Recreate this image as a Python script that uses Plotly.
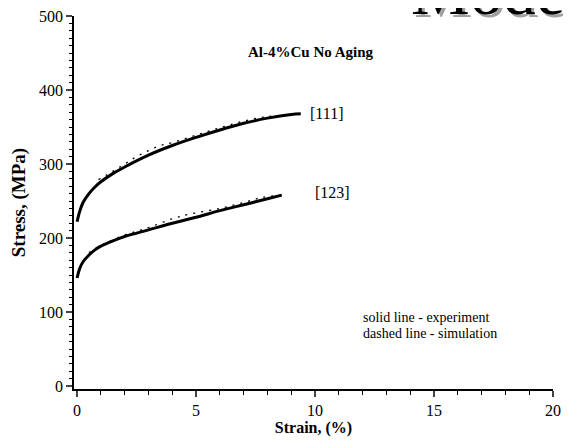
import plotly.graph_objects as go

# ---- data ----
exp111_strain = [0, 0.1, 0.25, 0.5, 0.75, 1.0, 1.5, 2.0, 3.0, 4.0, 5.0, 6.0, 7.0, 8.0, 9.0, 9.4]
exp111_stress = [222, 235, 248, 260, 269, 276, 287, 296, 312, 325, 336, 346, 355, 362, 367, 368]
exp123_strain = [0, 0.1, 0.25, 0.5, 0.75, 1.0, 1.5, 2.0, 3.0, 4.0, 5.0, 6.0, 7.0, 8.0, 8.6]
exp123_stress = [146, 158, 168, 177, 184, 189, 196, 202, 211, 220, 228, 237, 245, 253, 258]
sim111_strain = [0.9, 1.5, 2.0, 2.5, 3.0, 3.5, 4.0, 5.0, 6.0, 7.0, 8.0, 9.0]
sim111_stress = [279, 290, 300, 310, 318, 325, 329, 339, 349, 358, 364, 366]
sim123_strain = [0.5, 1.0, 2.0, 3.0, 4.0, 4.7, 6.0, 7.0, 7.8, 8.6]
sim123_stress = [180, 190, 204, 214, 226, 232, 240, 248, 255, 258]
x_ticks = [0, 5, 10, 15, 20]
y_ticks = [0, 100, 200, 300, 400, 500]

FONT = "Liberation Serif, Times New Roman, serif"

fig = go.Figure()
for xs, ys in [(sim111_strain, sim111_stress), (sim123_strain, sim123_stress)]:
    fig.add_trace(go.Scatter(x=xs, y=ys, mode="lines", line_shape="spline",
                             line=dict(color="black", width=1.3, dash="2px,6px"),
                             showlegend=False, hoverinfo="skip"))
for xs, ys in [(exp111_strain, exp111_stress), (exp123_strain, exp123_stress)]:
    fig.add_trace(go.Scatter(x=xs, y=ys, mode="lines", line_shape="spline",
                             line=dict(color="black", width=3),
                             showlegend=False))

annos = [
    dict(x=9.85, y=451, text="<b>Al-4%Cu No Aging</b>", font=dict(size=15)),
    dict(x=9.7, y=368, text="[111]", xanchor="left", font=dict(size=16)),
    dict(x=9.9, y=261, text="[123]", xanchor="left", font=dict(size=16)),
    dict(x=11.95, y=92, text="solid line - experiment", xanchor="left", font=dict(size=14)),
    dict(x=11.95, y=71, text="dashed line - simulation", xanchor="left", font=dict(size=14)),
]
for a in annos:
    a.setdefault("xanchor", "center")
    a["font"]["family"] = FONT
    a["font"]["color"] = "#000000"
    fig.add_annotation(showarrow=False, xref="x", yref="y", yanchor="middle", **a)

# big cut-off "Model" heading with shadow
for shift, col in [(3, "#a0a0a0"), (0, "#000000")]:
    fig.add_annotation(text="Model", xref="paper", yref="paper", x=0.70, y=1.0,
                       xanchor="left", yanchor="bottom", showarrow=False,
                       xshift=shift, yshift=-14 - shift,
                       font=dict(family=FONT, size=66, color=col))

fig.update_xaxes(range=[-0.13, 20], tickvals=x_ticks, ticks="outside", ticklen=6,
                 tickwidth=1.5, showline=True, linecolor="black", linewidth=1.5,
                 showgrid=False, zeroline=False, automargin=False, ticklabeloverflow="allow",
                 minor=dict(dtick=1, ticks="outside", ticklen=4, tickwidth=1.2, tickcolor="black"),
                 tickfont=dict(family=FONT, size=16, color="black"),
                 title=dict(text="<b>Strain, (%)</b>", font=dict(family=FONT, size=16, color="black"),
                            standoff=2))
fig.update_yaxes(range=[-4, 500], tickvals=y_ticks, ticks="outside", ticklen=6,
                 tickwidth=1.5, showline=True, linecolor="black", linewidth=1.5,
                 showgrid=False, zeroline=False, automargin=False, ticklabeloverflow="allow",
                 minor=dict(dtick=10, ticks="outside", ticklen=3, tickwidth=1.2, tickcolor="black"),
                 tickfont=dict(family=FONT, size=16, color="black"),
                 title=dict(text="<b>Stress, (MPa)</b>", font=dict(family=FONT, size=19, color="black"),
                            standoff=20))
# page body has an 8px margin, so the figure is sized to end at the window edge
fig.update_layout(width=563, height=437, margin=dict(l=66, r=18, t=8, b=56),
                  plot_bgcolor="white", paper_bgcolor="white", showlegend=False)
fig.write_html("out.html")
